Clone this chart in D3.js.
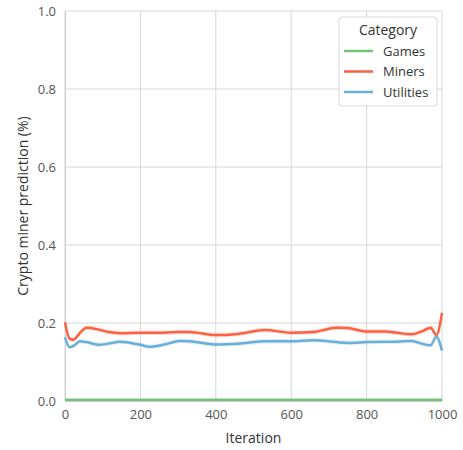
<!DOCTYPE html>
<html>
<head>
<meta charset="utf-8">
<script src="https://cdn.jsdelivr.net/npm/d3@7"></script>
<style>
  body { margin: 0; background: #fff; }
  text { font-family: "Open Sans", "DejaVu Sans", sans-serif; }
</style>
</head>
<body>
<div id="chart"></div>
<script>
// data
const categories = ["Games", "Miners", "Utilities"];
const colors = ["#74c476", "#fd6142", "#6baed6"];
const iterations = [0, 12, 22, 40, 57, 90, 120, 145, 200, 225, 260, 305, 330, 400, 460, 530, 600, 660, 720, 750, 800, 850, 880, 920, 950, 970, 985, 1000];
const games = [0.003, 0.003, 0.003, 0.003, 0.003, 0.003, 0.003, 0.003, 0.003, 0.003, 0.003, 0.003, 0.003, 0.003, 0.003, 0.003, 0.003, 0.003, 0.003, 0.003, 0.003, 0.003, 0.003, 0.003, 0.003, 0.003, 0.003, 0.003];
const miners = [0.202, 0.160, 0.157, 0.175, 0.188, 0.183, 0.176, 0.174, 0.175, 0.175, 0.175, 0.177, 0.177, 0.169, 0.172, 0.182, 0.175, 0.177, 0.188, 0.187, 0.178, 0.178, 0.175, 0.171, 0.180, 0.188, 0.169, 0.226];
const utilities = [0.163, 0.138, 0.141, 0.153, 0.151, 0.144, 0.148, 0.152, 0.144, 0.139, 0.144, 0.154, 0.153, 0.145, 0.147, 0.153, 0.153, 0.156, 0.151, 0.149, 0.151, 0.152, 0.152, 0.154, 0.146, 0.143, 0.165, 0.129];
const xTicks = [0, 200, 400, 600, 800, 1000];
const yTicks = [0.0, 0.2, 0.4, 0.6, 0.8, 1.0];

const W = 463, H = 450;
const margin = { top: 11, right: 21, bottom: 49, left: 65 };
const w = W - margin.left - margin.right;
const h = H - margin.top - margin.bottom;

const svg = d3.select("#chart").append("svg")
    .attr("width", W)
    .attr("height", H);

const g = svg.append("g").attr("transform", `translate(${margin.left},${margin.top})`);

const x = d3.scaleLinear().domain([0, 1000]).range([0, w]);
const y = d3.scaleLinear().domain([0, 1]).range([h, 0]);

// grid
g.selectAll(".gx").data(xTicks).enter().append("line")
    .attr("x1", d => x(d)).attr("x2", d => x(d))
    .attr("y1", 0).attr("y2", h)
    .attr("stroke", "#d6d6d6").attr("stroke-width", 1);
g.selectAll(".gy").data(yTicks).enter().append("line")
    .attr("x1", 0).attr("x2", w)
    .attr("y1", d => y(d)).attr("y2", d => y(d))
    .attr("stroke", "#d6d6d6").attr("stroke-width", 1);

// axes
const xAxis = g.append("g").attr("transform", `translate(0,${h})`)
    .call(d3.axisBottom(x).tickValues(xTicks).tickSize(0).tickPadding(9).tickFormat(d3.format("d")));
const yAxis = g.append("g")
    .call(d3.axisLeft(y).tickValues(yTicks).tickSize(0).tickPadding(9).tickFormat(d3.format(".1f")));
[xAxis, yAxis].forEach(a => {
    a.select(".domain").attr("stroke", "#cccccc");
    a.selectAll("text").attr("fill", "#555").style("font-size", "13px");
});

g.append("text")
    .attr("x", w / 2).attr("y", h + 42)
    .attr("text-anchor", "middle")
    .attr("fill", "#333").style("font-size", "14px")
    .text("Iteration");
g.append("text")
    .attr("transform", `translate(${-37},${h / 2}) rotate(-90)`)
    .attr("text-anchor", "middle")
    .attr("fill", "#333").style("font-size", "14px")
    .text("Crypto miner prediction (%)");

// series
const series = [games, miners, utilities].map((vals, i) => ({
    name: categories[i],
    color: colors[i],
    pts: iterations.map((it, j) => ({ it: it, v: vals[j] }))
}));

const line = d3.line().x(d => x(d.it)).y(d => y(d.v)).curve(d3.curveMonotoneX);
const band = d3.area().x(d => x(d.it))
    .y0(d => y(d.v - 0.006)).y1(d => y(d.v + 0.006))
    .curve(d3.curveMonotoneX);

series.forEach(s => {
    if (s.name !== "Games") {
        g.append("path").datum(s.pts)
            .attr("d", band)
            .attr("fill", s.color).attr("opacity", 0.18);
    }
    g.append("path").datum(s.pts)
        .attr("d", line)
        .attr("fill", "none")
        .attr("stroke", s.color)
        .attr("stroke-width", 2.5);
});

// legend
const lg = svg.append("g").attr("transform", "translate(339,17)");
lg.append("rect")
    .attr("width", 98).attr("height", 89)
    .attr("rx", 3)
    .attr("fill", "#fff").attr("fill-opacity", 0.85)
    .attr("stroke", "#d9d9d9");
lg.append("text")
    .attr("x", 49).attr("y", 18)
    .attr("text-anchor", "middle")
    .attr("fill", "#333").style("font-size", "14px")
    .text("Category");
categories.forEach((c, i) => {
    const yy = 34 + i * 20.5;
    lg.append("line")
        .attr("x1", 5).attr("x2", 34)
        .attr("y1", yy).attr("y2", yy)
        .attr("stroke", colors[i]).attr("stroke-width", 2.5);
    lg.append("text")
        .attr("x", 44).attr("y", yy + 4.5)
        .attr("fill", "#333").style("font-size", "13px")
        .text(c);
});
</script>
</body>
</html>
